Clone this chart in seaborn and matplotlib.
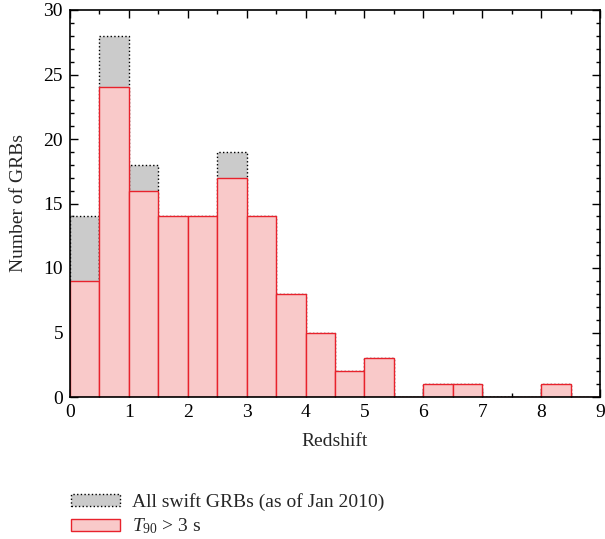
import numpy as np
import pandas as pd
import seaborn as sns
import matplotlib
matplotlib.use("Agg")
import matplotlib.pyplot as plt
from matplotlib.ticker import MultipleLocator
from matplotlib.patches import Patch

# Redshift bins (width 0.5) and GRB counts per bin
bin_edges = [0.0, 0.5, 1.0, 1.5, 2.0, 2.5, 3.0, 3.5, 4.0, 4.5, 5.0, 5.5,
             6.0, 6.5, 7.0, 7.5, 8.0, 8.5, 9.0]
all_swift = [14, 28, 18, 14, 14, 19, 14, 8, 5, 2, 3, 0, 1, 1, 0, 0, 1, 0]
long_t90 = [9, 24, 16, 14, 14, 17, 14, 8, 5, 2, 3, 0, 1, 1, 0, 0, 1, 0]

label_all = "All swift GRBs (as of Jan 2010)"
label_long = r"$T_{90}$ > 3 s"

sns.set_theme(style="ticks")
plt.rcParams["font.family"] = ["Liberation Serif", "DejaVu Serif"]
plt.rcParams["mathtext.fontset"] = "custom"
plt.rcParams["mathtext.it"] = "Liberation Serif:italic"
plt.rcParams["mathtext.rm"] = "Liberation Serif"

edges = np.array(bin_edges)
centers = (edges[:-1] + edges[1:]) / 2
df = pd.DataFrame({"z": centers, "all": all_swift, "long": long_t90})

fig = plt.figure(figsize=(6.05, 5.39), dpi=100)
ax = fig.add_axes([70 / 605, 1 - 397 / 539, 530 / 605, 387 / 539])

grey_fill = "#cbcbcb"
red_fill = "#f9c9c9"
red_edge = "#e8222c"
fs = 14

sns.histplot(data=df, x="z", weights="all", binwidth=0.5,
             binrange=(bin_edges[0], bin_edges[-1]), ax=ax,
             color=grey_fill, alpha=1, edgecolor="black", linewidth=1.0,
             linestyle=":")
sns.histplot(data=df, x="z", weights="long", binwidth=0.5,
             binrange=(bin_edges[0], bin_edges[-1]), ax=ax,
             color=red_fill, alpha=1, edgecolor=red_edge, linewidth=1.0)

ax.set_xlim(0, 9)
ax.set_ylim(0, 30)
ax.xaxis.set_major_locator(MultipleLocator(1))
ax.xaxis.set_minor_locator(MultipleLocator(0.5))
ax.yaxis.set_major_locator(MultipleLocator(5))
ax.yaxis.set_minor_locator(MultipleLocator(1))
ax.tick_params(which="both", direction="in", top=True, right=True,
               labelsize=fs, colors="black", width=1.0)
ax.tick_params(which="major", length=6, pad=5)
ax.tick_params(which="minor", length=3)
for s in ax.spines.values():
    s.set_linewidth(1.2)
    s.set_color("black")

ax.set_xlabel("Redshift", fontsize=fs, labelpad=9)
ax.set_ylabel("Number of GRBs", fontsize=fs, labelpad=12)

handles = [
    Patch(facecolor=grey_fill, edgecolor="black", linestyle=":", linewidth=1.0,
          label=label_all),
    Patch(facecolor=red_fill, edgecolor=red_edge, linewidth=1.0,
          label=label_long),
]
fig.legend(handles=handles, loc="upper left",
           bbox_to_anchor=(71 / 605, 1 - 493 / 539), frameon=False,
           borderpad=0, borderaxespad=0,
           fontsize=fs, handlelength=2.5, handleheight=0.55,
           handletextpad=0.65, labelspacing=0.3)

fig.savefig("out.png", dpi=100)
